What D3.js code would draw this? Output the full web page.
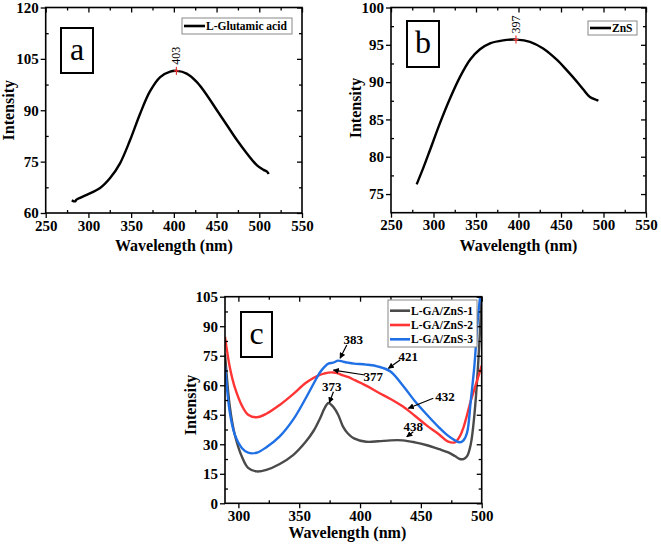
<!DOCTYPE html>
<html><head><meta charset="utf-8">
<script src="https://cdn.jsdelivr.net/npm/d3@7"></script>
<style>body{margin:0;background:#fff}svg{display:block}text{font-family:"Liberation Serif","Times New Roman",serif}</style>
</head><body><svg id="c" width="661" height="547"></svg>
<script>
// ---- data ----
const waveA=[280.5,284.4,286,298,313.7,325.4,337,348.8,360.5,372,384,395.7,403.5,415,427,438.7,450.4,462,473.8,485.5,497,505,509,511];
const intA=[63.7,63.4,63.9,65.3,67.3,70.2,74.5,81.3,89,95.5,99.7,101.3,101.5,100.7,98.2,94.4,90,85.7,81.3,77.4,74,72.6,72.1,71.4];
const waveB=[280.2,288,295.9,307.6,319.4,331.2,343,354.7,366.5,382,397.8,413.5,429,445,456.7,468.4,476.3,484,492,494];
const intB=[76.3,78.5,80.9,84.5,87.8,90.7,93,94.4,95.2,95.6,95.7,95.4,94.5,93,91.6,90.1,89,88,87.6,87.5];
const waveC=[289,293,297,303,308,315,323,334,345,355,362,367,371,374,378,382,386,390,395,405,415,425,435,445,455,465,472,478,482,485,488,491,494,497,500];
const gaZnS1=[76,49,35,23.5,18,16.2,17,20,24.5,31,37,43,48.5,51,49,45,39,35.5,33,31.3,31.5,32,32,31,29.5,27.5,26,24,22.5,22.5,24,30,45,70,106];
const gaZnS2=[84.6,69,59,49.5,45,43.7,45.5,50,55.5,61,63.8,65.3,66,66.4,66.5,66,65,64.2,62.8,59.8,56.3,53,49.3,44.5,39.5,35,31.5,31,34,38.5,45,52,58,64,70];
const gaZnS3=[70,46,35,28,25.7,25.7,28.5,34,42.5,53,61,66.5,69.5,71,71.5,72.5,72,71.5,71,70.5,69.5,67,60,52,45,38.5,34.5,32,31,32,36,52,70,95,112];
const seriesNamesC=["L-GA/ZnS-1","L-GA/ZnS-2","L-GA/ZnS-3"];
const ticksA_x=[250,300,350,400,450,500,550], ticksA_y=[60,75,90,105,120];
const ticksB_x=[250,300,350,400,450,500,550], ticksB_y=[75,80,85,90,95,100];
const ticksC_x=[300,350,400,450,500], ticksC_y=[0,15,30,45,60,75,90,105];
const peakA={x:403,y:101.5,label:"403"};
const peakB={x:397,y:95.7,label:"397"};
const annotC=[
 {label:"383",tx:394.5,ty:83.0,ax:389.1,ay:80.4,bx:383.6,by:73.7},
 {label:"421",tx:439.7,ty:74.5,ax:432.9,ay:72.8,bx:423.3,by:68.6},
 {label:"377",tx:410.9,ty:64.3,ax:404.1,ay:65.2,bx:378.1,by:67.7},
 {label:"373",tx:376.7,ty:59.2,ax:378.1,ay:56.7,bx:374.8,by:51.1},
 {label:"432",tx:469.8,ty:54.2,ax:460.2,ay:53.4,bx:439.7,by:48.3},
 {label:"438",tx:443.8,ty:38.9,ax:443.8,ay:36.4,bx:438.4,by:33.8}
];

const svg=d3.select("#c");
const defs=svg.append("defs");
defs.append("marker").attr("id","arr").attr("viewBox","0 0 10 10").attr("refX",9).attr("refY",5)
 .attr("markerWidth",5).attr("markerHeight",5).attr("orient","auto")
 .append("path").attr("d","M0,0L10,5L0,10z").attr("fill","#000");

function mids(t){const m=[];for(let i=0;i<t.length-1;i++)m.push((t[i]+t[i+1])/2);return m;}

function panel(o){
 const x=d3.scaleLinear().domain(o.xd).range([o.l,o.r]);
 const y=d3.scaleLinear().domain(o.yd).range([o.b,o.t]);
 const g=svg.append("g");
 const cid="clip"+o.name;
 defs.append("clipPath").attr("id",cid).append("rect").attr("x",o.l).attr("y",o.t).attr("width",o.r-o.l).attr("height",o.b-o.t);
 const line=d3.line().x(d=>x(d[0])).y(d=>y(d[1])).curve(d3.curveCatmullRom);
 o.series.forEach(s=>{
  g.append("path").datum(s.x.map((v,i)=>[v,s.y[i]])).attr("clip-path",`url(#${cid})`)
   .attr("fill","none").attr("stroke",s.color).attr("stroke-width",2.4).attr("stroke-linejoin","round").attr("d",line);
 });
 const xm=mids(o.xt), ym=mids(o.yt);
 function ax(gen,tr,vals,size,labels){
  const a=g.append("g").attr("transform",tr).call(gen.tickValues(vals).tickSize(size).tickPadding(2).tickFormat(labels?d3.format("d"):""));
  a.select(".domain").remove();
  a.selectAll("line").attr("stroke","#000").attr("stroke-width",1.3);
  a.selectAll("text").attr("font-size",15).attr("font-weight","bold").attr("fill","#000").attr("font-family","Liberation Serif");
  return a;
 }
 ax(d3.axisBottom(x),`translate(0,${o.b})`,o.xt,5,true);
 ax(d3.axisBottom(x),`translate(0,${o.b})`,xm,-3,false);
 ax(d3.axisTop(x),`translate(0,${o.t})`,o.xt,-5,false);
 ax(d3.axisTop(x),`translate(0,${o.t})`,xm,-3,false);
 ax(d3.axisLeft(y),`translate(${o.l},0)`,o.yt,5,true);
 ax(d3.axisLeft(y),`translate(${o.l},0)`,ym,-3,false);
 ax(d3.axisRight(y),`translate(${o.r},0)`,o.yt,-5,false);
 ax(d3.axisRight(y),`translate(${o.r},0)`,ym,-3,false);
 g.append("rect").attr("x",o.l).attr("y",o.t).attr("width",o.r-o.l).attr("height",o.b-o.t)
  .attr("fill","none").attr("stroke","#000").attr("stroke-width",1.6);
 g.append("text").attr("x",(o.l+o.r)/2+o.xtdx).attr("y",o.b+o.xtdy).attr("text-anchor","middle")
  .attr("font-size",16).attr("font-weight","bold").text("Wavelength (nm)");
 g.append("text").attr("transform",`translate(${o.l-o.ytdx},${(o.t+o.b)/2+o.ytdy}) rotate(-90)`).attr("text-anchor","middle")
  .attr("font-size",16).attr("font-weight","bold").text("Intensity");
 // panel letter box
 g.append("rect").attr("x",o.box[0]).attr("y",o.box[1]).attr("width",o.box[2]).attr("height",o.box[3])
  .attr("fill","#fff").attr("stroke","#000").attr("stroke-width",2);
 g.append("text").attr("x",o.box[0]+o.box[2]/2).attr("y",o.box[1]+o.box[3]/2+9).attr("text-anchor","middle")
  .attr("font-size",32).text(o.name);
 // legend
 const L=o.legend;
 const lg=g.append("g");
 lg.append("rect").attr("x",L.x).attr("y",L.y).attr("width",L.w).attr("height",L.h)
  .attr("fill","#fff").attr("stroke","#888").attr("stroke-width",1);
 o.series.forEach((s,i)=>{
  const yy=L.y+L.first+i*L.step;
  lg.append("line").attr("x1",L.x+2).attr("x2",L.x+L.ll).attr("y1",yy).attr("y2",yy).attr("stroke",s.color).attr("stroke-width",2.6);
  lg.append("text").attr("x",L.x+L.ll+1).attr("y",yy+4).attr("font-size",11.5).attr("font-weight","bold").text(s.name);
 });
 return {x,y,g};
}

const A=panel({name:"a",xd:[250,550],yd:[60,120],l:45.7,r:302,t:7.5,b:213,xt:ticksA_x,yt:ticksA_y,
 xtdx:0,xtdy:38,ytdx:32,ytdy:0,box:[61,28,32,45],
 legend:{x:182,y:18,w:110,h:16,first:8,step:14,ll:23},
 series:[{x:waveA,y:intA,color:"#000",name:"L-Glutamic acid"}]});
const B=panel({name:"b",xd:[250,550],yd:[72.5,100],l:391,r:646,t:7.5,b:212.7,xt:ticksB_x,yt:ticksB_y,
 xtdx:0,xtdy:38,ytdx:30,ytdy:-2,box:[407,21,32,46],
 legend:{x:588,y:21,w:49,h:14,first:7,step:14,ll:23},
 series:[{x:waveB,y:intB,color:"#000",name:"ZnS"}]});
const C=panel({name:"c",xd:[289,500],yd:[0,105],l:225,r:481.7,t:296.7,b:503.3,xt:ticksC_x,yt:ticksC_y,
 xtdx:-6,xtdy:35,ytdx:29,ytdy:5,box:[241,312,31,45],
 legend:{x:388,y:300,w:89,h:47,first:10.7,step:14.3,ll:22},
 series:[{x:waveC,y:gaZnS1,color:"#4a4a4a",name:seriesNamesC[0]},
         {x:waveC,y:gaZnS2,color:"#ff3535",name:seriesNamesC[1]},
         {x:waveC,y:gaZnS3,color:"#1f6fe5",name:seriesNamesC[2]}]});

// peak markers a, b
[[A,peakA],[B,peakB]].forEach(([P,pk])=>{
 const px=P.x(pk.x), py=P.y(pk.y);
 P.g.append("line").attr("x1",px).attr("x2",px).attr("y1",py-4).attr("y2",py+4).attr("stroke","#e33").attr("stroke-width",1.2);
 P.g.append("line").attr("x1",px-2.5).attr("x2",px+2.5).attr("y1",py).attr("y2",py).attr("stroke","#e33").attr("stroke-width",1.2);
 P.g.append("text").attr("transform",`translate(${px+4},${py-6}) rotate(-90)`).attr("font-size",12).text(pk.label);
});
// annotations c
annotC.forEach(a=>{
 C.g.append("line").attr("x1",C.x(a.ax)).attr("y1",C.y(a.ay)).attr("x2",C.x(a.bx)).attr("y2",C.y(a.by))
  .attr("stroke","#000").attr("stroke-width",1.2).attr("marker-end","url(#arr)");
 C.g.append("text").attr("x",C.x(a.tx)).attr("y",C.y(a.ty)+4.5).attr("text-anchor","middle")
  .attr("font-size",13).attr("font-weight","bold").text(a.label);
});
</script></body></html>
